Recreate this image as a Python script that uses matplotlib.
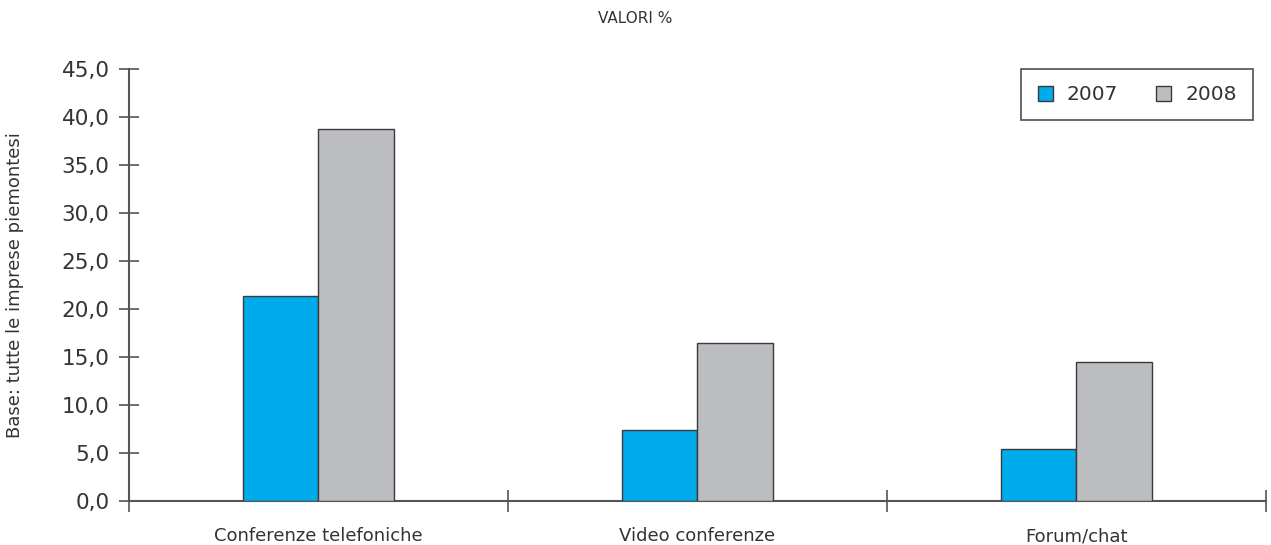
import numpy as np
import matplotlib
matplotlib.use("Agg")
import matplotlib.pyplot as plt

categories = ["Conferenze telefoniche", "Video conferenze", "Forum/chat"]
val_2007 = [21.4, 7.4, 5.4]
val_2008 = [38.8, 16.4, 14.5]
y_ticks = [0, 5, 10, 15, 20, 25, 30, 35, 40, 45]

plt.rcParams['font.family'] = ['DejaVu Sans']
axis_col = '#555555'
text_col = '#333333'

fig = plt.figure(figsize=(12.71, 5.45), dpi=100)
ax = fig.add_axes([0.1015, 0.0813, 0.8945, 0.7917])

x = np.arange(len(categories))
w = 0.2
ax.bar(x - w/2, val_2007, w, color='#00ABEB', edgecolor='#3a3a3a', linewidth=1, label='2007', zorder=3)
ax.bar(x + w/2, val_2008, w, color='#BCBDC0', edgecolor='#3a3a3a', linewidth=1, label='2008', zorder=3)

ax.set_xlim(-0.5, len(categories) - 0.5)
ax.set_ylim(0, 45)
ax.set_yticks(y_ticks)
ax.set_yticklabels([f"{v:.1f}".replace('.', ',') for v in y_ticks], fontsize=15.5, color=text_col)

# boundaries as major ticks, labels on minor ticks at the centres
ax.set_xticks(np.arange(len(categories) + 1) - 0.5)
ax.set_xticklabels([])
ax.set_xticks(x, minor=True)
ax.set_xticklabels(categories, minor=True, fontsize=13, color=text_col)
ax.tick_params(axis='x', which='major', direction='inout', length=16, width=1.2, color=axis_col)
ax.tick_params(axis='x', which='minor', length=0, pad=19)
ax.tick_params(axis='y', direction='inout', length=14, width=1.2, color=axis_col, pad=7)

for s in ['top', 'right']:
    ax.spines[s].set_visible(False)
for s in ['left', 'bottom']:
    ax.spines[s].set_color(axis_col)
    ax.spines[s].set_linewidth(1.5)

ax.set_ylabel("Base: tutte le imprese piemontesi", fontsize=13, color=text_col, labelpad=27)

fig.text(0.5, 0.966, "VALORI %", ha='center', va='center', fontsize=11, color=text_col)

leg = ax.legend(loc='upper right', bbox_to_anchor=(0.986, 0.873), bbox_transform=fig.transFigure,
                borderaxespad=0, ncol=2, fontsize=14.5, frameon=True, fancybox=False,
                handlelength=0.75, handleheight=0.75, columnspacing=1.9, borderpad=0.8,
                handletextpad=0.7, labelcolor=text_col)
leg.get_frame().set_edgecolor('#222222')
leg.get_frame().set_linewidth(1.2)

fig.savefig("out.png", dpi=100)
